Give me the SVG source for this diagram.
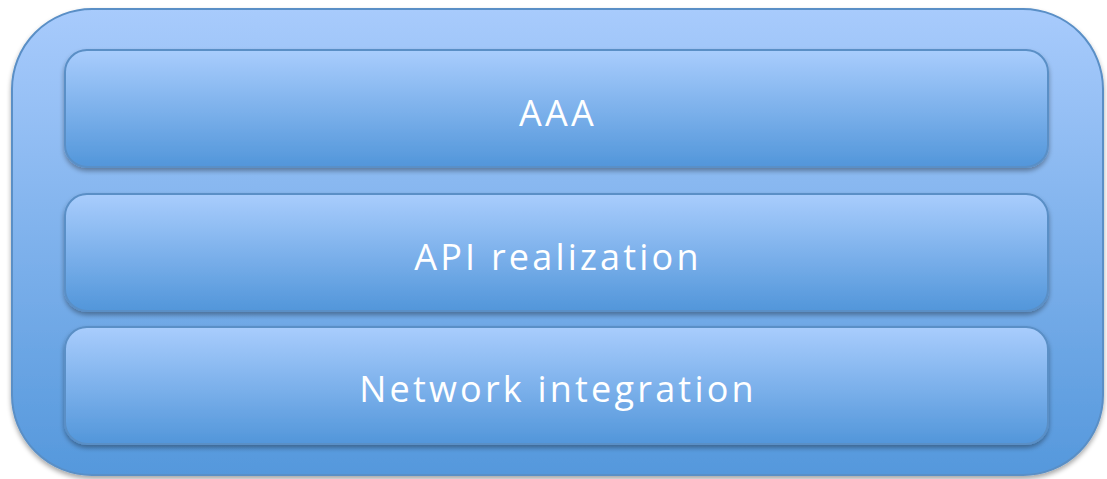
<svg xmlns="http://www.w3.org/2000/svg" width="1107" height="479" viewBox="0 0 1107 479">
<defs>
<linearGradient id="gOuter" x1="0" y1="0" x2="0" y2="1">
<stop offset="0" stop-color="#a8cbfc"/>
<stop offset="1" stop-color="#5598dc"/>
</linearGradient>
<linearGradient id="gInner" x1="0" y1="0" x2="0" y2="1">
<stop offset="0" stop-color="#a9cdfd"/>
<stop offset="1" stop-color="#5296da"/>
</linearGradient>
<filter id="sh" x="-5%" y="-10%" width="110%" height="130%">
<feGaussianBlur in="SourceAlpha" stdDeviation="2.5"/>
<feOffset dx="0" dy="3" result="b"/>
<feComponentTransfer><feFuncA type="linear" slope="0.35"/></feComponentTransfer>
<feMerge><feMergeNode/><feMergeNode in="SourceGraphic"/></feMerge>
</filter>
</defs>
<style>
.box{fill:url(#gInner);stroke:#5a8fc6;stroke-width:2;filter:url(#sh);}
.lbl{font-family:"Open Sans","Noto Sans",sans-serif;font-size:36px;letter-spacing:3.2px;fill:#ffffff;text-anchor:middle;}
</style>
<g id="outer">
<rect x="12" y="9" width="1091" height="466" rx="80" ry="80" fill="url(#gOuter)" stroke="#5a8fc6" stroke-width="2" filter="url(#sh)"/>
</g>
<g id="aaa">
<rect class="box" x="65" y="50" width="983" height="117" rx="22" ry="22"/>
<text class="lbl" x="558" y="126">AAA</text>
</g>
<g id="api">
<rect class="box" x="65" y="194" width="983" height="117" rx="22" ry="22"/>
<text class="lbl" x="558" y="270">API realization</text>
</g>
<g id="network">
<rect class="box" x="65" y="327" width="983" height="117" rx="22" ry="22"/>
<text class="lbl" x="558" y="402">Network integration</text>
</g>
<g id="connectors"/>
</svg>
